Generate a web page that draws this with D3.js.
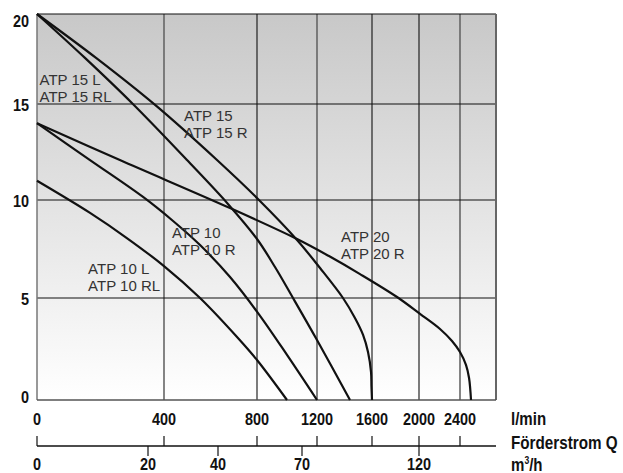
<!DOCTYPE html>
<html lang="de">
<head>
<meta charset="utf-8">
<script src="https://d3js.org/d3.v7.min.js"></script>
<style>
  body { margin: 0; background: #fff; }
  .num { font-family: "Liberation Sans", Arial, sans-serif; font-weight: bold; font-size: 17px; fill: #111; }
  .unit { font-family: "Liberation Sans", Arial, sans-serif; font-weight: bold; font-size: 17.5px; fill: #111; }
  .lbl { font-family: "Liberation Sans", Arial, sans-serif; font-size: 15px; fill: #333; }
</style>
</head>
<body>
<div id="chart"></div>
<script>
// axis values
var flowTicks = [0, 400, 800, 1200, 1600, 2000, 2400];
var flowMax = 2750;
var m3hTicks = [0, 20, 40, 70, 120];
var headTicks = [0, 5, 10, 15, 20];

// pump curves, [l/min, m]
var atp15 = [[0, 20], [186, 17.56], [372, 14.95], [628, 12.08], [813, 10], [1067, 7.96], [1222, 6.53], [1389, 5], [1476, 4.02], [1535, 3.19], [1571, 2.35], [1593, 1.37], [1596, 0.69], [1600, 0]];
var atp15L = [[0, 20], [151, 17.56], [302, 15], [499, 12.08], [675, 9.8], [800, 8.01], [920, 6.58], [1040, 5], [1200, 2.94], [1440, 0]];
var atp20 = [[0, 14], [261, 12.08], [684, 9.59], [1067, 8.01], [1287, 7.14], [1513, 6.22], [1813, 5.05], [2010, 4.22], [2205, 3.48], [2322, 2.89], [2400, 2.35], [2458, 1.72], [2488, 1.08], [2507, 0]];
var atp10 = [[0, 14], [167, 12.08], [334, 10.16], [434, 8.98], [555, 7.7], [684, 6.07], [807, 4.26], [1000, 2.21], [1200, 0]];
var atp10L = [[0, 11], [167, 9.34], [283, 8.06], [400, 6.63], [555, 5], [718, 3.04], [800, 1.96], [1000, 0]];

var curves = [atp15, atp15L, atp20, atp10, atp10L];

// labels: [l/min, m, line 1, line 2]
var labels = [
  [8, 16.05, "ATP 15 L", "ATP 15 RL"],
  [486, 14.11, "ATP 15", "ATP 15 R"],
  [434, 8.06, "ATP 10", "ATP 10 R"],
  [161, 6.22, "ATP 10 L", "ATP 10 RL"],
  [1375, 7.86, "ATP 20", "ATP 20 R"]
];

var W = 623, H = 473;
var svg = d3.select("#chart").append("svg").attr("width", W).attr("height", H);

var x = d3.scaleLinear()
  .domain(flowTicks.concat([flowMax]))
  .range([37, 164, 257, 317, 372, 419, 460, 496]);
var m3 = d3.scaleLinear()
  .domain(m3hTicks)
  .range([37, 148, 218, 302, 419]);
var y = d3.scaleLinear()
  .domain(headTicks)
  .range([400, 298, 200, 104, 14]);

var x0 = x(0), x1 = x(flowMax), yTop = y(20), yBot = y(0);

function narrow(px, py, k) {
  return "translate(" + px + "," + py + ") scale(" + k + ",1)";
}

// background gradient
var grad = svg.append("defs").append("linearGradient")
  .attr("id", "bg").attr("x1", 0).attr("y1", 0).attr("x2", 0).attr("y2", 1);
grad.append("stop").attr("offset", "0%").attr("stop-color", "#c8c8c8");
grad.append("stop").attr("offset", "100%").attr("stop-color", "#ffffff");

svg.append("rect")
  .attr("x", x0).attr("y", yTop)
  .attr("width", x1 - x0).attr("height", yBot - yTop)
  .attr("fill", "url(#bg)");

// grid
var greyLines = [400, 1200, 2400];
svg.append("g").selectAll("line")
  .data(flowTicks.slice(1))
  .enter().append("line")
    .attr("x1", d => x(d)).attr("x2", d => x(d))
    .attr("y1", yTop).attr("y2", yBot)
    .attr("stroke", d => greyLines.indexOf(d) >= 0 ? "#666" : "#111")
    .attr("stroke-width", d => greyLines.indexOf(d) >= 0 ? 1.6 : 1.1);

svg.append("g").selectAll("line")
  .data(headTicks.slice(1))
  .enter().append("line")
    .attr("x1", x0).attr("x2", x1)
    .attr("y1", d => y(d)).attr("y2", d => y(d))
    .attr("stroke", "#111").attr("stroke-width", 1.1);

// frame
svg.append("line").attr("x1", x0).attr("x2", x0).attr("y1", yTop).attr("y2", yBot)
  .attr("stroke", "#777").attr("stroke-width", 1.5);
svg.append("line").attr("x1", x1).attr("x2", x1).attr("y1", yTop).attr("y2", yBot)
  .attr("stroke", "#666").attr("stroke-width", 2);
svg.append("line").attr("x1", x0).attr("x2", x1).attr("y1", yBot).attr("y2", yBot)
  .attr("stroke", "#555").attr("stroke-width", 1.5);

// curves
var line = d3.line()
  .x(d => x(d[0]))
  .y(d => y(d[1]))
  .curve(d3.curveCatmullRom.alpha(0.5));

svg.append("g").selectAll("path")
  .data(curves)
  .enter().append("path")
    .attr("d", line)
    .attr("fill", "none")
    .attr("stroke", "#111")
    .attr("stroke-width", 2.2)
    .attr("stroke-linejoin", "round");

// curve labels
var lg = svg.append("g").selectAll("text")
  .data(labels)
  .enter().append("text")
    .attr("class", "lbl")
    .attr("x", d => x(d[0]))
    .attr("y", d => y(d[1]));
lg.append("tspan").text(d => d[2]);
lg.append("tspan").attr("x", d => x(d[0])).attr("dy", 16.8).text(d => d[3]);

// y labels
svg.append("g").selectAll("text")
  .data(headTicks)
  .enter().append("text")
    .attr("class", "num")
    .attr("text-anchor", "end")
    .attr("transform", d => narrow(29, Math.max(20, Math.min(396, y(d))) + 6.5, 0.85))
    .text(d => d);

// l/min labels
svg.append("g").selectAll("text")
  .data(flowTicks)
  .enter().append("text")
    .attr("class", "num")
    .attr("text-anchor", "middle")
    .attr("transform", d => narrow(x(d), 425, 0.85))
    .text(d => d);

// second axis
var axY = 446;
svg.append("line").attr("x1", x0).attr("x2", x1).attr("y1", axY).attr("y2", axY)
  .attr("stroke", "#111").attr("stroke-width", 1.3);

svg.append("g").selectAll("line")
  .data(flowTicks)
  .enter().append("line")
    .attr("x1", d => x(d)).attr("x2", d => x(d))
    .attr("y1", axY - 10).attr("y2", axY)
    .attr("stroke", "#111").attr("stroke-width", 1.2);

svg.append("g").selectAll("line")
  .data(m3hTicks.slice(1))
  .enter().append("line")
    .attr("x1", d => m3(d)).attr("x2", d => m3(d))
    .attr("y1", axY).attr("y2", axY + 10)
    .attr("stroke", "#111").attr("stroke-width", 1.2);

svg.append("g").selectAll("text")
  .data(m3hTicks)
  .enter().append("text")
    .attr("class", "num")
    .attr("text-anchor", "middle")
    .attr("transform", d => narrow(m3(d), 470, 0.85))
    .text(d => d);

// unit labels
svg.append("text").attr("class", "unit").attr("transform", narrow(511, 425, 0.86)).text("l/min");
svg.append("text").attr("class", "unit").attr("transform", narrow(511, 449, 0.87)).text("Förderstrom Q");
var mt = svg.append("text").attr("class", "unit").attr("transform", narrow(511, 471, 0.86));
mt.append("tspan").text("m");
mt.append("tspan").attr("font-size", "10px").attr("dy", -7).text("3");
mt.append("tspan").attr("dy", 7).text("/h");
</script>
</body>
</html>
